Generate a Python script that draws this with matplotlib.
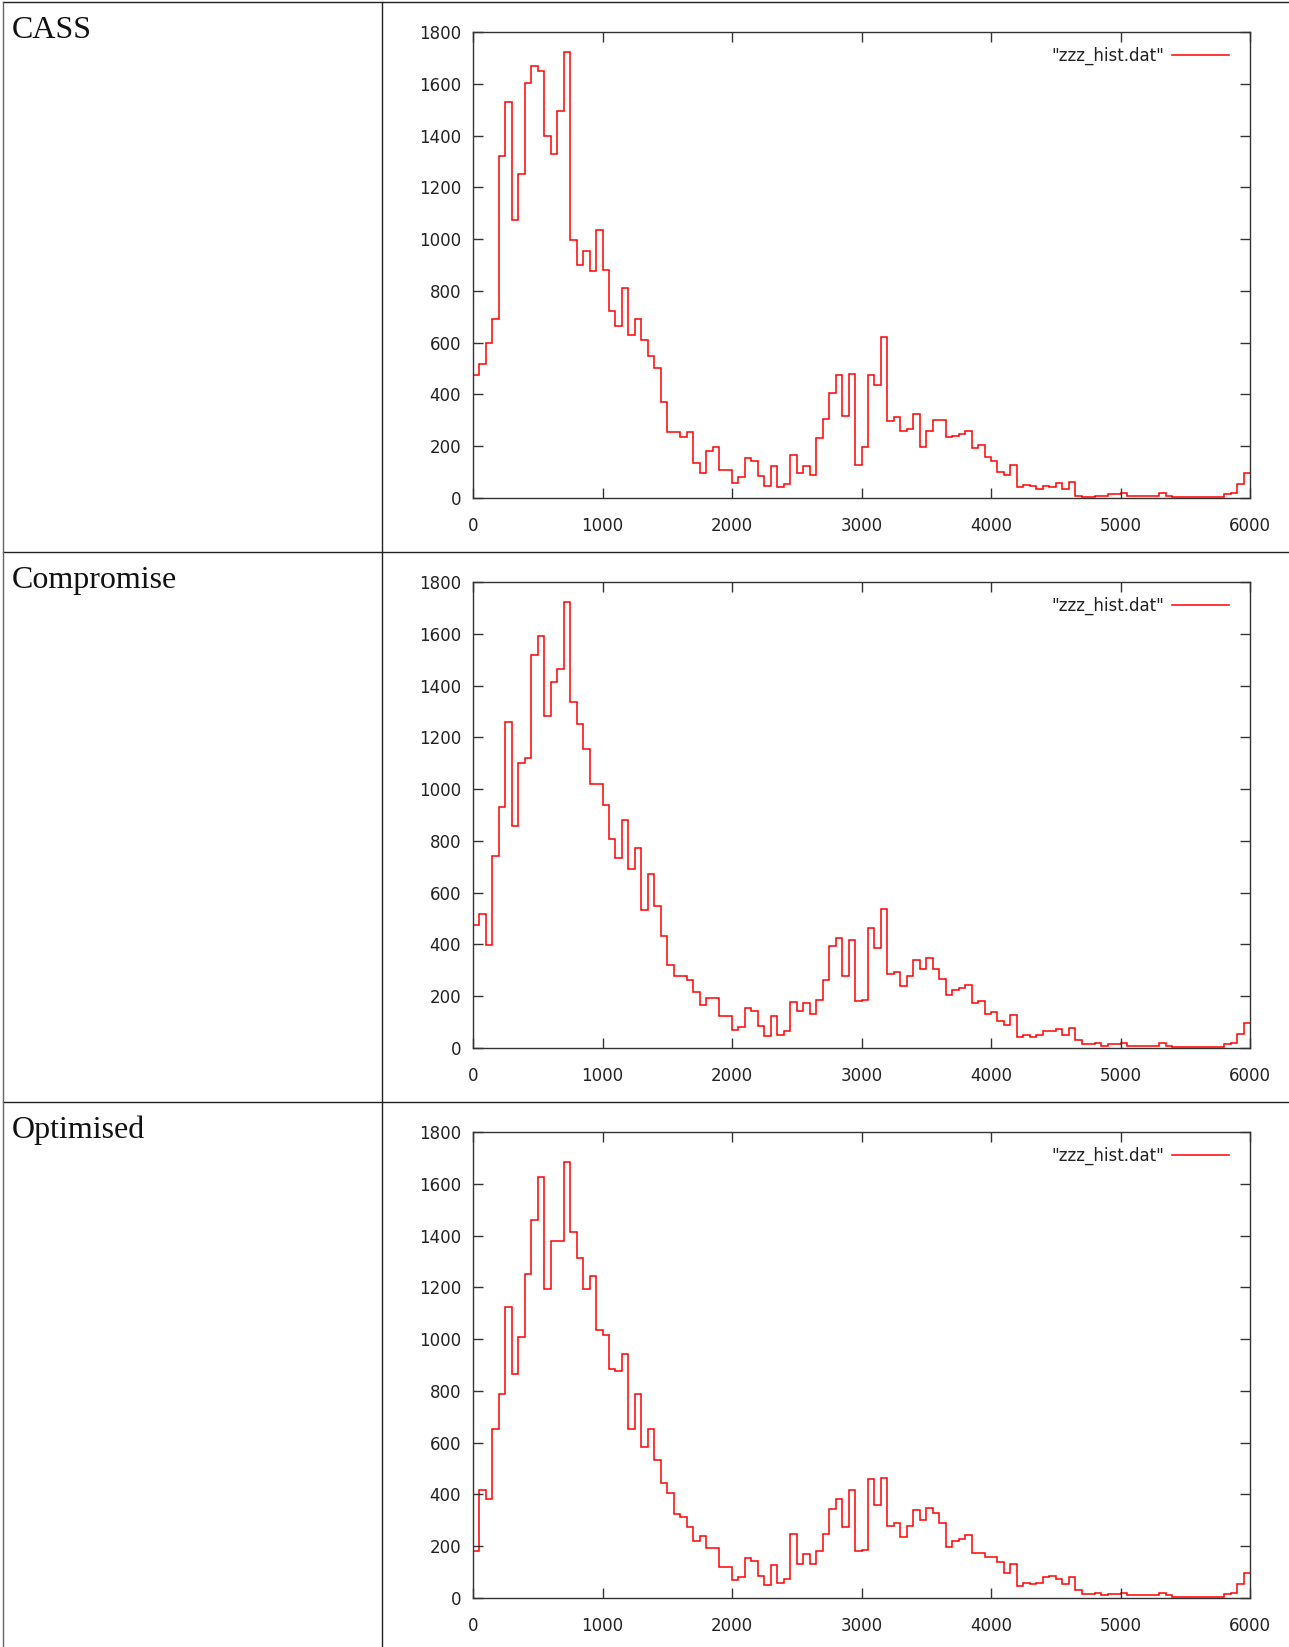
#!/usr/bin/env python3
# -*- coding: utf-8 -*-

"""
Three gnuplot-style histograms (zzz_hist.dat) laid out in a two-column table
"""

import numpy as np
import matplotlib
matplotlib.use( 'Agg' )
import matplotlib.pyplot as plt
from matplotlib.lines import Line2D

# row labels
row_labels = ['CASS', 'Compromise', 'Optimised']

# histogram bins: 50 wide, 0..6000
bin_width = 50
bin_edges = np.arange( 0, 6000 + bin_width, bin_width )

cass_counts = [
    475, 517, 599, 690, 1322, 1528, 1073, 1252, 1603, 1667,
    1651, 1397, 1327, 1494, 1721, 997, 901, 955, 875, 1036,
    879, 723, 664, 810, 631, 691, 610, 549, 502, 372,
    254, 254, 237, 254, 134, 97, 182, 198, 108, 108,
    59, 80, 156, 141, 86, 48, 123, 42, 53, 166,
    97, 123, 89, 231, 307, 404, 475, 318, 480, 129,
    197, 474, 436, 620, 296, 312, 258, 267, 324, 197,
    259, 300, 300, 236, 241, 246, 258, 192, 203, 160,
    143, 101, 90, 127, 42, 52, 45, 36, 45, 41,
    57, 36, 62, 9, 3, 3, 9, 9, 14, 14,
    19, 9, 9, 9, 9, 9, 19, 9, 3, 3,
    3, 3, 3, 3, 3, 3, 14, 19, 53, 96,
]

compromise_counts = [
    475, 517, 399, 743, 929, 1258, 859, 1101, 1119, 1517,
    1592, 1284, 1414, 1463, 1723, 1338, 1252, 1156, 1019, 1019,
    939, 809, 733, 879, 690, 772, 534, 674, 550, 432,
    319, 280, 280, 263, 215, 165, 194, 194, 123, 123,
    70, 80, 155, 141, 85, 48, 123, 52, 65, 178,
    141, 172, 133, 187, 263, 394, 426, 280, 419, 183,
    187, 462, 386, 537, 284, 295, 240, 277, 338, 305,
    348, 305, 267, 203, 225, 230, 245, 175, 181, 133,
    138, 106, 89, 126, 41, 52, 41, 52, 67, 67,
    74, 52, 79, 30, 14, 14, 19, 9, 14, 14,
    19, 9, 9, 9, 9, 9, 19, 9, 3, 3,
    3, 3, 3, 3, 3, 3, 14, 19, 53, 95,
]

optimised_counts = [
    183, 419, 382, 653, 788, 1124, 865, 1010, 1253, 1459,
    1628, 1195, 1378, 1378, 1686, 1415, 1314, 1195, 1243, 1036,
    1017, 885, 875, 941, 653, 788, 583, 653, 533, 443,
    404, 323, 312, 274, 219, 241, 192, 192, 121, 121,
    70, 80, 155, 142, 84, 52, 126, 57, 72, 246,
    133, 170, 133, 182, 246, 345, 382, 274, 419, 182,
    186, 458, 360, 462, 279, 290, 236, 279, 338, 302,
    348, 328, 290, 198, 220, 227, 242, 172, 172, 160,
    160, 139, 95, 132, 48, 59, 54, 59, 80, 85,
    74, 54, 80, 31, 15, 15, 21, 10, 15, 15,
    21, 10, 10, 10, 10, 10, 21, 10, 4, 4,
    4, 4, 4, 4, 4, 4, 15, 21, 54, 97,
]

x_ticks = [0, 1000, 2000, 3000, 4000, 5000, 6000]
y_ticks = [0, 200, 400, 600, 800, 1000, 1200, 1400, 1600, 1800]
legend_label = '"zzz_hist.dat"'

W, H = 1289, 1647
DPI = 100


def fx( px ):
    return px / W


def fy( py ):
    return 1 - py / H


def draw_hist( fig, top_px, counts ):
    """gnuplot風のステップヒストグラムを1つ描く"""
    left, right = 473, 1250
    bottom = top_px + 466
    ax = fig.add_axes( [fx( left ), fy( bottom ), fx( right - left ), ( bottom - top_px ) / H] )
    ax.stairs( counts, bin_edges, baseline=None, color='#ff0000', linewidth=1.1,
               label=legend_label )
    ax.set_xlim( 0, 6000 )
    ax.set_ylim( 0, 1800 )
    ax.set_xticks( x_ticks )
    ax.set_yticks( y_ticks )
    ax.tick_params( direction='in', length=7, width=1, color='#333333',
                    labelsize=12, labelcolor='#222222',
                    top=True, right=True )
    ax.tick_params( axis='y', pad=8.5 )
    ax.tick_params( axis='x', pad=13.5 )
    for sp in ax.spines.values():
        sp.set_color( '#333333' )
        sp.set_linewidth( 1 )
    ax.legend( loc='upper right', bbox_to_anchor=( 0.981, 0.983 ), borderaxespad=0,
               frameon=False, markerfirst=False, handlelength=3.4,
               handletextpad=0.45, fontsize=12, labelcolor='#222222' )
    return ax


fig = plt.figure( figsize=( W / DPI, H / DPI ), dpi=DPI )

row_tops = [2, 552, 1102]
plot_tops = [32, 582, 1132]
all_counts = [cass_counts, compromise_counts, optimised_counts]

for label, rtop, ptop, counts in zip( row_labels, row_tops, plot_tops, all_counts ):
    fig.text( fx( 12 ), fy( rtop + 36 ), label, fontsize=23, family='Liberation Serif',
              color='#111111', va='baseline', ha='left' )
    draw_hist( fig, ptop, counts )

# table grid lines
grid_color = '#222222'
for rtop in row_tops:
    fig.add_artist( Line2D( [fx( 3 ), 1], [fy( rtop ), fy( rtop )], color=grid_color, linewidth=1 ) )
fig.add_artist( Line2D( [fx( 3 ), fx( 3 )], [fy( 2 ), 0], color='#666666', linewidth=1 ) )
fig.add_artist( Line2D( [fx( 382 ), fx( 382 )], [fy( 2 ), 0], color=grid_color, linewidth=1 ) )

fig.savefig( 'out.png', dpi=DPI )
